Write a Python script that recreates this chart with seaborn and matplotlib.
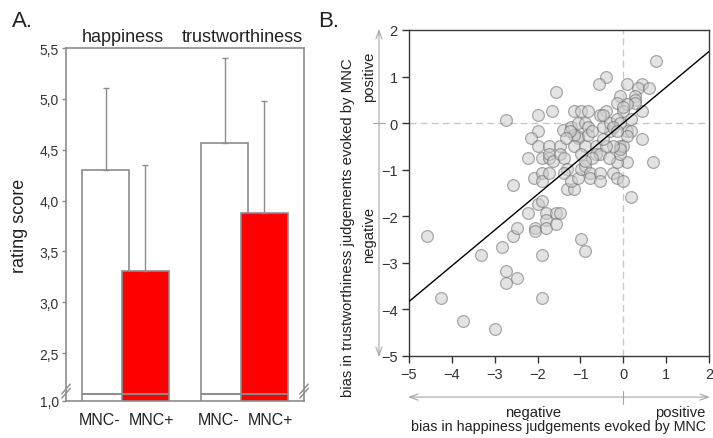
import numpy as np
import pandas as pd
import matplotlib
matplotlib.use("Agg")
import matplotlib.pyplot as plt
import seaborn as sns
from matplotlib.transforms import blended_transform_factory

# ---------------- data: panel A ----------------
traits = ["happiness", "trustworthiness"]
conditions = ["MNC-", "MNC+"]
mean_mnc_minus = [4.30, 4.57]
mean_mnc_plus = [3.31, 3.88]
sd_mnc_minus = [0.81, 0.83]
sd_mnc_plus = [1.04, 1.10]
ytick_values_a = [2.03, 2.5, 3.0, 3.5, 4.0, 4.5, 5.0, 5.5]
ytick_labels_a = ["1,0", "2,5", "3,0", "3,5", "4,0", "4,5", "5,0", "5,5"]
axis_break_value = 2.094

# ---------------- data: panel B ----------------
happiness_bias = [
    -4.57, -4.25, -3.73, -2.99, -3.31, -2.82, -2.74, -2.57, -2.57, -2.48,
    -2.74, -2.74, -2.49, -1.90, -1.90, -2.23, -2.06, -2.06, -1.99, -1.90,
    -1.80, -1.80, -1.80, -1.56, -1.48, -1.56, -0.99, -0.90, -1.56, -1.66,
    -1.98, -1.98, -2.15, -2.23, -1.98, -1.90, -2.08, -1.90, -1.90, -1.73,
    -1.73, -1.73, -1.73, -1.65, -1.48, -1.48, -1.39, -1.41, -1.31, -1.39,
    -1.31, -1.15, -1.22, -1.06, -0.99, -0.90, -0.77, -0.77, -0.55, -0.55,
    -0.23, -0.15, 0.00, 0.19, 0.69, 0.44, 0.44, 0.09, -0.15, -0.07,
    0.77, -0.40, -0.57, 0.09, 0.44, 0.35, 0.60, 0.28, 0.28, 0.28,
    -0.07, -0.15, 0.09, 0.00, 0.00, 0.19, 0.09, 0.19, 0.09, -0.07,
    0.00, -0.07, -0.24, -0.40, -0.55, -0.47, -1.16, -0.99, -0.82, -1.22,
    -1.06, -0.90, -0.82, -1.06, -1.06, -1.16, -1.25, -1.33, -1.16, -0.90,
    -0.82, -0.72, -0.63, -0.63, -0.55, -0.72, -0.99, -0.90, -0.33, -0.40,
    -0.32, -0.47, -0.32, -0.15, -0.07, -0.23, -0.15, -0.47,
]
trust_bias = [
    -2.42, -3.75, -4.25, -4.43, -2.84, -2.67, 0.07, -1.33, -2.42, -2.25,
    -3.18, -3.43, -3.33, -3.75, -2.84, -1.92, -2.25, -2.32, -1.74, -1.67,
    -1.92, -2.09, -2.25, -1.92, -1.92, -2.17, -2.49, -2.75, 0.67, 0.25,
    0.17, -0.16, -0.32, -0.75, -0.49, -0.75, -1.17, -1.07, -1.24, -1.07,
    -0.49, -0.75, -0.67, -0.82, -0.49, -0.67, -0.75, -0.15, -0.99, -1.07,
    -1.42, -1.42, -1.24, -1.17, -0.99, -0.92, -1.07, -1.17, -1.07, -1.24,
    -1.07, -1.17, -1.24, -1.58, -0.83, -0.33, 0.25, -0.83, -0.83, -0.67,
    1.33, 1.00, 0.83, 0.83, 0.83, 0.75, 0.75, 0.59, 0.50, 0.43,
    0.59, 0.43, 0.41, 0.25, 0.34, 0.09, -0.16, -0.16, -0.27, -0.49,
    -0.49, -0.56, -0.49, 0.25, 0.17, 0.17, 0.25, 0.25, 0.25, -0.08,
    0.00, 0.00, -0.08, -0.27, -0.32, -0.25, -0.16, -0.32, -0.49, -0.49,
    -0.25, -0.16, -0.49, -0.67, -0.67, -0.75, -0.67, -0.82, -0.75, -0.49,
    -0.16, -0.08, 0.00, 0.09, 0.00, -0.08, -0.16, -0.33,
]
axis_ticks_b = [-5, -4, -3, -2, -1, 0, 1, 2]

# ---------------- style ----------------
sns.set_style("white")
plt.rcParams["font.family"] = ["Liberation Sans", "DejaVu Sans"]
text_col = "#222222"
gray_a = "#8c8c8c"

fig = plt.figure(figsize=(7.13, 4.39), dpi=100)
axA = fig.add_axes([0.0926, 0.0843, 0.3338, 0.804])
axB = fig.add_axes([0.5736, 0.1868, 0.4208, 0.7426])

# ---------------- panel A ----------------
df = pd.DataFrame({
    "trait": traits * 2,
    "condition": [conditions[0]] * len(traits) + [conditions[1]] * len(traits),
    "score": mean_mnc_minus + mean_mnc_plus,
    "sd": sd_mnc_minus + sd_mnc_plus,
})
sns.barplot(data=df, x="trait", y="score", hue="condition", order=traits,
            hue_order=conditions, palette={"MNC-": "white", "MNC+": "#ff0000"},
            edgecolor=gray_a, linewidth=1.2, errorbar=None, width=0.667,
            saturation=1, legend=False, ax=axA)

bar_w = 0.4
centers = []
for p, row in zip(axA.patches, df.itertuples()):
    cx = p.get_x() + p.get_width() / 2
    p.set_x(cx - bar_w / 2)
    p.set_width(bar_w)
    centers.append(cx)
    axA.errorbar([cx], [row.score], yerr=[[0], [row.sd]], fmt="none",
                 ecolor=gray_a, elinewidth=1.0, capsize=2.5, capthick=1.0,
                 zorder=1)

# axis-break line across each group of bars
for i, t in enumerate(traits):
    idx = [k for k, r in enumerate(df.itertuples()) if r.trait == t]
    lefts = [axA.patches[k].get_x() for k in idx]
    rights = [axA.patches[k].get_x() + axA.patches[k].get_width() for k in idx]
    axA.hlines(axis_break_value, min(lefts), max(rights), color=gray_a, lw=1.4,
               zorder=5)

axA.set_xlim(-0.5, 1.5)
axA.set_ylim(ytick_values_a[0], ytick_values_a[-1])
axA.set_yticks(ytick_values_a, ytick_labels_a)

tick_pos = []
tick_lab = []
for k, r in enumerate(df.itertuples()):
    g = traits.index(r.trait)
    tick_pos.append(g + 1.3 * (centers[k] - g))
    tick_lab.append(r.condition)
axA.set_xticks(tick_pos, tick_lab)
axA.tick_params(axis="x", length=0, pad=8, labelsize=11.5, labelcolor=text_col)
axA.tick_params(axis="y", length=3, width=1, color=gray_a, pad=2,
                labelsize=10, labelcolor="#333333", left=True)
axA.set_xlabel("")
axA.set_ylabel("rating score", fontsize=13, color=text_col)
axA.yaxis.set_label_coords(-0.16, 0.5)
for s in axA.spines.values():
    s.set_color(gray_a)
    s.set_linewidth(1.2)

trA = blended_transform_factory(axA.transData, axA.transAxes)
for i, t in enumerate(traits):
    axA.text(i - 0.02, 1.033, t, transform=trA, ha="center", va="center",
             fontsize=13, color=text_col)

# break marks on the spines
for xa in (0.0, 1.0):
    for dy in (0.0, 0.012):
        axA.plot([xa - 0.018, xa + 0.018], [0.008 + dy, 0.036 + dy],
                 transform=axA.transAxes, color=gray_a, lw=1.0, clip_on=False)

# ---------------- panel B ----------------
axB.set_xlim(axis_ticks_b[0], axis_ticks_b[-1])
axB.set_ylim(axis_ticks_b[0], axis_ticks_b[-1])
axB.axhline(0, color="#c8c8c8", lw=1.0, ls=(0, (5, 3)), zorder=1)
axB.axvline(0, color="#c8c8c8", lw=1.0, ls=(0, (5, 3)), zorder=1)
sns.scatterplot(x=happiness_bias, y=trust_bias, s=72, color="#cdcdcd",
                edgecolor="#6a6a6a", linewidth=0.9, alpha=0.55, ax=axB,
                zorder=3, legend=False)
sns.regplot(x=happiness_bias, y=trust_bias, scatter=False, ci=None,
            truncate=False, color="black", line_kws={"lw": 1.0, "zorder": 4},
            ax=axB)
axB.set_xlim(axis_ticks_b[0], axis_ticks_b[-1])
axB.set_ylim(axis_ticks_b[0], axis_ticks_b[-1])
axB.set_xticks(axis_ticks_b)
axB.set_yticks(axis_ticks_b)
axB.tick_params(axis="both", length=5, width=1, color="#333333", pad=3,
                labelsize=10.5, labelcolor="#333333", bottom=True, left=True)
for s in axB.spines.values():
    s.set_color("#3a3a3a")
    s.set_linewidth(1.0)
axB.set_xlabel("")
axB.set_ylabel("")

arrow_col = "#a5a5a5"
arrowprops = dict(arrowstyle="<->,head_length=0.6,head_width=0.22",
                  color=arrow_col, lw=0.8, shrinkA=0, shrinkB=0)
# x direction arrow
axB.annotate("", xy=(1.003, -0.126), xytext=(-0.003, -0.126),
             xycoords="axes fraction", textcoords="axes fraction",
             arrowprops=arrowprops, annotation_clip=False)
trBx = blended_transform_factory(axB.transData, axB.transAxes)
axB.plot([0, 0], [-0.107, -0.147], transform=trBx, color=arrow_col, lw=0.8,
         clip_on=False)
axB.text(0.413, -0.172, "negative", transform=axB.transAxes, ha="center",
         va="center", fontsize=10.6, color=text_col)
axB.text(0.903, -0.172, "positive", transform=axB.transAxes, ha="center",
         va="center", fontsize=10.6, color=text_col)
axB.text(0.5, -0.215, "bias in happiness judgements evoked by MNC",
         transform=axB.transAxes, ha="center", va="center", fontsize=10.3,
         color=text_col)
# y direction arrow
axB.annotate("", xy=(-0.1, 1.003), xytext=(-0.1, -0.003),
             xycoords="axes fraction", textcoords="axes fraction",
             arrowprops=arrowprops, annotation_clip=False)
trBy = blended_transform_factory(axB.transAxes, axB.transData)
axB.plot([-0.12, -0.08], [0, 0], transform=trBy, color=arrow_col, lw=0.8,
         clip_on=False)
axB.text(-0.133, 0.859, "positive", transform=axB.transAxes, ha="center",
         va="center", rotation=90, fontsize=10.6, color=text_col)
axB.text(-0.133, 0.374, "negative", transform=axB.transAxes, ha="center",
         va="center", rotation=90, fontsize=10.6, color=text_col)
axB.text(-0.203, 0.396, "bias in trustworthiness judgements evoked by MNC",
         transform=axB.transAxes, ha="center", va="center", rotation=90,
         fontsize=10.7, color=text_col)

fig.text(0.017, 0.95, "A.", fontsize=16, ha="left", va="center", color=text_col)
fig.text(0.446, 0.95, "B.", fontsize=16, ha="left", va="center", color=text_col)

fig.savefig("out.png", dpi=100)
